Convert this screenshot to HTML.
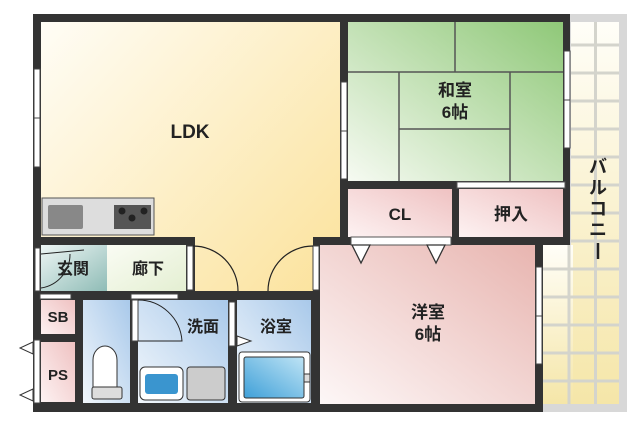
<!DOCTYPE html>
<html><head><meta charset="utf-8"><style>
html,body{margin:0;padding:0;background:#fff;width:640px;height:426px;overflow:hidden}
svg text{font-family:"Liberation Sans","Noto Sans CJK JP",sans-serif;font-weight:bold;fill:#222;text-anchor:middle}
</style></head><body>
<svg width="640" height="426" viewBox="0 0 640 426" xmlns="http://www.w3.org/2000/svg">
<defs>
<linearGradient id="ldk" gradientUnits="userSpaceOnUse" x1="41" y1="22" x2="340" y2="291"><stop offset="0" stop-color="#fffdf6"/><stop offset="1" stop-color="#fbe29b"/></linearGradient>
<linearGradient id="wa" x1="0" y1="1" x2="1" y2="0"><stop offset="0" stop-color="#f6faf2"/><stop offset="1" stop-color="#8fc878"/></linearGradient>
<linearGradient id="pink" x1="0" y1="1" x2="1" y2="0"><stop offset="0" stop-color="#fdf7f7"/><stop offset="1" stop-color="#e8b5b0"/></linearGradient>
<linearGradient id="pink2" x1="0" y1="1" x2="1" y2="0"><stop offset="0" stop-color="#fdf2f2"/><stop offset="1" stop-color="#efc2c2"/></linearGradient>
<linearGradient id="blue" x1="0" y1="1" x2="1" y2="0"><stop offset="0" stop-color="#f2f7fc"/><stop offset="1" stop-color="#a9c9ea"/></linearGradient>
<linearGradient id="gen" x1="0" y1="0" x2="1" y2="1"><stop offset="0" stop-color="#eef6f5"/><stop offset="1" stop-color="#8fbcb6"/></linearGradient>
<linearGradient id="rou" x1="0" y1="0" x2="1" y2="1"><stop offset="0" stop-color="#fafcf4"/><stop offset="1" stop-color="#e4efd2"/></linearGradient>
<linearGradient id="bal" x1="0" y1="0" x2="0" y2="1"><stop offset="0" stop-color="#fffef8"/><stop offset="1" stop-color="#f5e6a8"/></linearGradient>
<linearGradient id="bath" x1="0" y1="1" x2="1" y2="0"><stop offset="0" stop-color="#3fa0d8"/><stop offset="1" stop-color="#bfe4f5"/></linearGradient>
</defs>
<!-- balcony -->
<rect x="570" y="14" width="57" height="398" fill="#d8d8d8"/>
<rect x="543" y="245" width="30" height="167" fill="#d8d8d8"/>
<rect x="571" y="22" width="48" height="382" fill="url(#bal)"/>
<rect x="543" y="245" width="30" height="159" fill="url(#bal)"/>
<g stroke="#d4d4cc" stroke-width="3">
<line x1="595.5" y1="22" x2="595.5" y2="404"/>
<line x1="569" y1="245" x2="569" y2="404"/>
<line x1="571" y1="45" x2="619" y2="45"/><line x1="571" y1="73" x2="619" y2="73"/><line x1="571" y1="101" x2="619" y2="101"/><line x1="571" y1="129" x2="619" y2="129"/><line x1="571" y1="157" x2="619" y2="157"/><line x1="571" y1="185" x2="619" y2="185"/><line x1="571" y1="213" x2="619" y2="213"/><line x1="571" y1="241" x2="619" y2="241"/>
<line x1="543" y1="269" x2="619" y2="269"/><line x1="543" y1="297" x2="619" y2="297"/><line x1="543" y1="325" x2="619" y2="325"/><line x1="543" y1="353" x2="619" y2="353"/><line x1="543" y1="381" x2="619" y2="381"/>
</g>
<!-- walls base -->
<rect x="33" y="14" width="537" height="231" fill="#333"/>
<rect x="33" y="237" width="510" height="175" fill="#333"/>
<!-- LDK -->
<rect x="41" y="22" width="299" height="215" fill="url(#ldk)"/>
<rect x="195" y="230" width="118" height="61" fill="url(#ldk)"/>
<!-- kitchen -->
<rect x="42" y="198" width="112" height="37" fill="#ddd" stroke="#555" stroke-width="1"/>
<rect x="48" y="205" width="35" height="24" rx="2" fill="#888"/>
<rect x="114" y="205" width="37" height="24" fill="#555"/>
<circle cx="122" cy="211" r="3.5" fill="#222"/><circle cx="144" cy="211" r="3.5" fill="#222"/><circle cx="132" cy="218" r="3.5" fill="#222"/>
<!-- washitsu -->
<rect x="348" y="22" width="215" height="159" fill="url(#wa)"/>
<g stroke="#555" stroke-width="1.5" fill="none">
<line x1="348" y1="72" x2="563" y2="72"/><line x1="455" y1="22" x2="455" y2="72"/>
<line x1="399" y1="72" x2="399" y2="181"/><line x1="510" y1="72" x2="510" y2="181"/>
<line x1="399" y1="129" x2="510" y2="129"/>
</g>
<!-- CL / oshiire -->
<rect x="348" y="189" width="104" height="48" fill="url(#pink2)"/>
<rect x="459" y="189" width="104" height="48" fill="url(#pink2)"/>
<rect x="457" y="182" width="108" height="6" fill="#fff" stroke="#555" stroke-width="1"/>
<!-- youshitsu -->
<rect x="320" y="245" width="215" height="159" fill="url(#pink)"/>
<rect x="351" y="237" width="100" height="8" fill="#fff" stroke="#555" stroke-width="1"/>
<polygon points="352,245 370,245 361,263" fill="#fff" stroke="#333" stroke-width="1.3"/>
<polygon points="427,245 445,245 436,263" fill="#fff" stroke="#333" stroke-width="1.3"/>
<!-- windows -->
<g fill="#fff" stroke="#444" stroke-width="1">
<rect x="34" y="69" width="6" height="98"/><line x1="34" y1="118" x2="40" y2="118"/>
<rect x="341" y="82" width="6" height="97"/><line x1="341" y1="131" x2="347" y2="131"/>
<rect x="564" y="51" width="6" height="97"/><line x1="564" y1="100" x2="570" y2="100"/>
<rect x="536" y="267" width="6" height="97"/><line x1="536" y1="316" x2="542" y2="316"/>
</g>
<!-- genkan / rouka -->
<rect x="41" y="245" width="66" height="46" fill="url(#gen)"/>
<rect x="107" y="245" width="79" height="46" fill="url(#rou)"/>
<rect x="35" y="248" width="5" height="43" fill="#fff" stroke="#444"/>
<path d="M41 254 L84 250 M41 288 A34 34 0 0 0 70 254" stroke="#222" fill="none" stroke-width="1"/>
<rect x="187" y="246" width="6" height="44" fill="#fff" stroke="#444"/>
<path d="M193 246 A45 45 0 0 1 238 291" stroke="#222" fill="none" stroke-width="1.2"/>
<rect x="313" y="246" width="6" height="44" fill="#fff" stroke="#444"/>
<path d="M313 246 A45 45 0 0 0 268 291" stroke="#222" fill="none" stroke-width="1.2"/>
<!-- lower rooms -->
<rect x="41" y="300" width="34" height="34" fill="url(#pink2)"/>
<rect x="41" y="342" width="34" height="60" fill="url(#pink2)"/>
<rect x="40" y="294" width="31" height="5" fill="#fff" stroke="#444"/>
<polygon points="33,342 20,348 33,354" fill="#fff" stroke="#333"/>
<polygon points="33,389 20,395 33,401" fill="#fff" stroke="#333"/>
<rect x="34" y="340" width="6" height="63" fill="#fff" stroke="#444"/>
<rect x="83" y="300" width="47" height="103" fill="url(#blue)"/>
<rect x="138" y="300" width="90" height="103" fill="url(#blue)"/>
<rect x="237" y="300" width="74" height="103" fill="url(#blue)"/>
<rect x="131" y="294" width="47" height="5" fill="#fff" stroke="#444"/>
<rect x="132" y="300" width="6" height="41" fill="#fff" stroke="#444"/>
<path d="M138 300 A44 44 0 0 1 182 341 L138 341" stroke="#222" fill="none" stroke-width="1"/>
<rect x="229" y="302" width="6" height="44" fill="#fff" stroke="#444"/>
<polygon points="237,336 251,341 237,346" fill="#fff" stroke="#333"/>
<!-- toilet -->
<path d="M93 388 L93 360 A12 14 0 0 1 117 360 L117 388 Z" fill="#fff" stroke="#333"/>
<rect x="92" y="387" width="30" height="12" rx="2" fill="#ddd" stroke="#333"/>
<!-- sink & washer -->
<rect x="140" y="367" width="43" height="33" rx="5" fill="#fff" stroke="#333"/>
<rect x="145" y="374" width="33" height="20" rx="3" fill="#3a95cf"/>
<rect x="187" y="367" width="38" height="33" rx="3" fill="#ccc" stroke="#333"/>
<!-- bath -->
<rect x="239" y="352" width="71" height="50" rx="3" fill="#fff" stroke="#333"/>
<rect x="244" y="357" width="60" height="41" rx="2" fill="url(#bath)" stroke="#333"/>
<rect x="304" y="374" width="6" height="8" fill="#ddd" stroke="#333"/>
<!-- labels -->
<text x="190" y="138" font-size="19">LDK</text>
<text x="455" y="96" font-size="17">和室</text>
<text x="455" y="118" font-size="17">6帖</text>
<text x="400" y="220" font-size="17">CL</text>
<text x="511" y="220" font-size="17">押入</text>
<text x="428" y="318" font-size="17">洋室</text>
<text x="428" y="340" font-size="17">6帖</text>
<text x="73" y="274" font-size="16">玄関</text>
<text x="148" y="274" font-size="16">廊下</text>
<text x="58" y="322" font-size="15">SB</text>
<text x="58" y="380" font-size="15">PS</text>
<text x="203" y="332" font-size="16">洗面</text>
<text x="276" y="332" font-size="16">浴室</text>
<g font-size="18"><text x="598" y="173">バ</text><text x="598" y="194">ル</text><text x="598" y="215">コ</text><text x="598" y="236">ニ</text></g>
<line x1="598" y1="243" x2="598" y2="259" stroke="#222" stroke-width="2.5"/>
</svg>
</body></html>
